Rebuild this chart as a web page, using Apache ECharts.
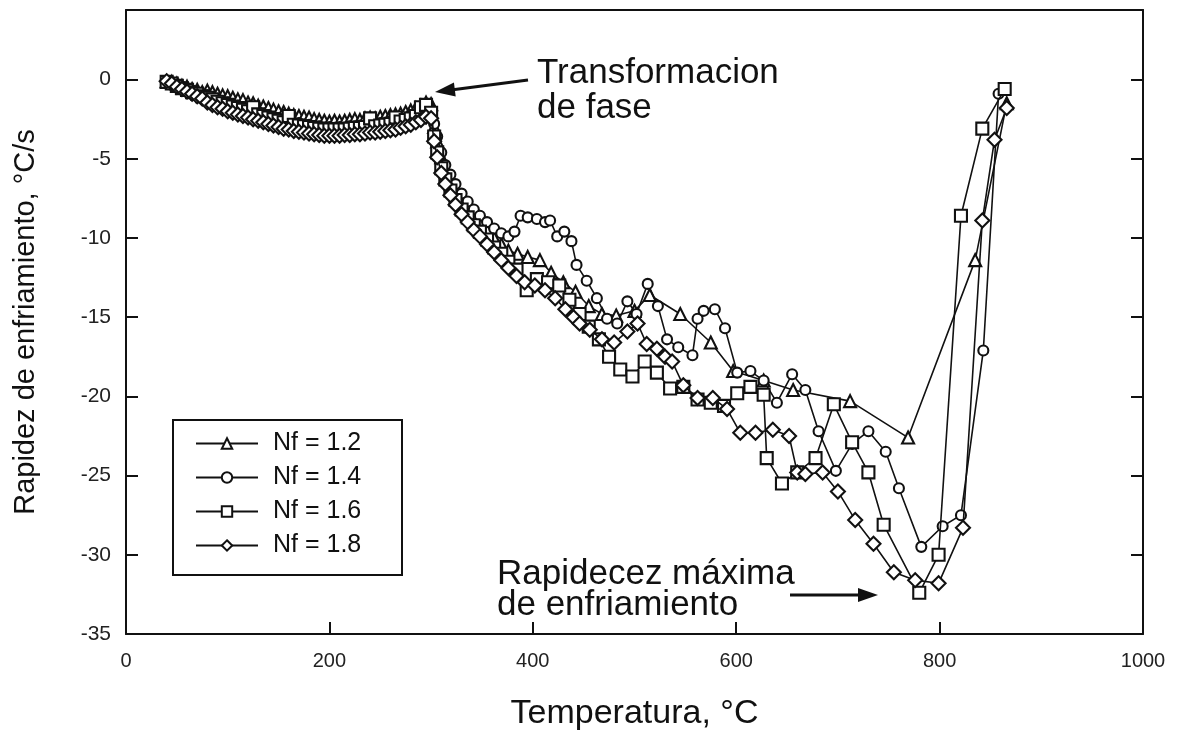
<!DOCTYPE html>
<html>
<head>
<meta charset="utf-8">
<script src="https://cdn.jsdelivr.net/npm/echarts@6/dist/echarts.min.js"></script>
<style>
html,body{margin:0;padding:0;background:#fff;}
#chart{width:1181px;height:736px;}
</style>
</head>
<body>
<div id="chart"></div>
<script>
// ---- data ----
const seriesNames = ['Nf = 1.2', 'Nf = 1.4', 'Nf = 1.6', 'Nf = 1.8'];
const xTicks = [0, 200, 400, 600, 800, 1000];
const yTicks = [0, -5, -10, -15, -20, -25, -30, -35];

// early (shared temperatures), 40..300 °C
const tEarly = [40,45,50,55,60,65,70,75,80,85,90,95,100,105,110,115,120,125,130,135,140,145,150,155,160,165,170,175,180,185,190,195,200,205,210,215,220,225,230,235,240,245,250,255,260,265,270,275,280,285,290,295,300];
const early12 = [-0.10,-0.15,-0.25,-0.40,-0.45,-0.60,-0.65,-0.80,-0.70,-0.80,-0.90,-1.00,-1.05,-1.15,-1.25,-1.30,-1.45,-1.50,-1.65,-1.70,-1.80,-1.90,-2.00,-2.05,-2.15,-2.25,-2.30,-2.35,-2.40,-2.50,-2.55,-2.60,-2.65,-2.60,-2.65,-2.60,-2.55,-2.50,-2.55,-2.45,-2.40,-2.45,-2.35,-2.30,-2.25,-2.20,-2.15,-2.05,-1.95,-1.80,-1.65,-1.45,-1.55];
const early14 = [-0.10,-0.20,-0.30,-0.45,-0.55,-0.70,-0.80,-0.95,-1.00,-1.15,-1.25,-1.40,-1.45,-1.60,-1.65,-1.80,-1.85,-2.00,-2.05,-2.20,-2.25,-2.40,-2.45,-2.60,-2.60,-2.75,-2.75,-2.85,-2.85,-2.95,-2.95,-3.05,-3.00,-3.05,-3.00,-3.05,-2.95,-2.95,-2.90,-2.90,-2.80,-2.85,-2.75,-2.75,-2.65,-2.65,-2.50,-2.45,-2.30,-2.20,-2.00,-1.85,-1.90];
const early16 = [-0.15,-0.25,-0.40,-0.55,-0.65,-0.80,-0.90,-1.05,-1.15,-1.25,-1.40,-1.50,-1.60,-1.70,-1.80,-1.90,-2.00,-1.75,-2.20,-2.30,-2.40,-2.50,-2.60,-2.70,-2.30,-2.85,-2.90,-2.95,-3.00,-3.05,-3.10,-3.15,-3.15,-3.15,-3.15,-3.15,-3.10,-3.05,-3.05,-3.00,-2.45,-2.95,-2.90,-2.85,-2.80,-2.40,-2.65,-2.55,-2.45,-2.30,-1.75,-1.60,-2.10];
const early18 = [-0.10,-0.25,-0.45,-0.60,-0.75,-0.90,-1.05,-1.20,-1.45,-1.60,-1.75,-1.85,-2.00,-2.10,-2.20,-2.30,-2.40,-2.50,-2.60,-2.70,-2.80,-2.90,-3.00,-3.10,-3.15,-3.25,-3.30,-3.35,-3.40,-3.45,-3.50,-3.55,-3.55,-3.55,-3.55,-3.50,-3.50,-3.45,-3.45,-3.40,-3.35,-3.35,-3.30,-3.25,-3.20,-3.15,-3.05,-2.95,-2.85,-2.70,-2.55,-2.35,-2.45];

// later part, per series
const tLate12 = [303,306,310,314,319,324,330,336,342,348,355,362,369,376,385,395,407,418,430,442,455,468,482,500,515,545,575,597,627,656,712,769,835,866];
const late12  = [-3.0,-3.9,-4.9,-5.6,-6.3,-6.9,-7.5,-8.0,-8.5,-9.0,-9.5,-10.0,-10.4,-10.8,-11.0,-11.2,-11.4,-12.2,-12.8,-13.4,-14.3,-14.8,-14.9,-14.6,-13.6,-14.8,-16.6,-18.4,-19.0,-19.6,-20.3,-22.6,-11.4,-1.5];

const tLate14 = [303,306,310,314,319,324,330,336,342,348,355,362,369,376,382,388,395,404,412,417,424,431,438,443,453,463,473,483,493,502,513,523,532,543,557,562,568,579,589,601,614,627,640,655,668,681,698,714,730,747,760,782,803,821,843,858];
const late14  = [-2.8,-3.6,-4.6,-5.4,-6.0,-6.6,-7.2,-7.7,-8.2,-8.6,-9.0,-9.4,-9.7,-9.9,-9.6,-8.6,-8.7,-8.8,-9.0,-8.9,-9.9,-9.6,-10.2,-11.7,-12.7,-13.8,-15.1,-15.4,-14.0,-14.8,-12.9,-14.3,-16.4,-16.9,-17.4,-15.1,-14.6,-14.5,-15.7,-18.5,-18.4,-19.0,-20.4,-18.6,-19.6,-22.2,-24.7,-23.0,-22.2,-23.5,-25.8,-29.5,-28.2,-27.5,-17.1,-0.9];

const tLate16 = [303,306,310,314,319,324,330,336,342,348,355,362,369,376,384,394,404,415,426,436,446,455,465,475,486,498,510,522,535,548,562,575,588,601,614,627,630,645,660,678,696,714,730,745,780,799,821,842,864];
const late16  = [-3.6,-4.6,-5.6,-6.3,-7.0,-7.6,-8.2,-8.7,-9.2,-9.6,-10.1,-10.6,-11.0,-11.5,-12.0,-13.3,-12.6,-12.8,-13.0,-13.9,-14.8,-15.6,-16.4,-17.5,-18.3,-18.75,-17.8,-18.5,-19.5,-19.4,-20.2,-20.4,-20.6,-19.8,-19.4,-19.9,-23.9,-25.5,-24.8,-23.9,-20.5,-22.9,-24.8,-28.1,-32.4,-30.0,-8.6,-3.1,-0.6];

const tLate18 = [303,306,310,314,319,324,330,336,342,348,355,362,369,376,384,392,402,412,422,432,440,446,456,468,480,493,503,512,522,530,537,548,562,577,591,604,619,636,652,660,668,685,700,717,735,755,776,799,823,842,854,866];
const late18  = [-3.9,-4.9,-5.9,-6.6,-7.3,-7.9,-8.5,-9.0,-9.5,-9.9,-10.4,-10.9,-11.4,-11.9,-12.4,-12.8,-13.0,-13.3,-13.8,-14.5,-15.0,-15.4,-15.8,-16.4,-16.6,-15.9,-15.4,-16.7,-17.0,-17.5,-17.8,-19.3,-20.1,-20.1,-20.8,-22.3,-22.3,-22.1,-22.5,-24.8,-24.9,-24.8,-26.0,-27.8,-29.3,-31.1,-31.6,-31.8,-28.3,-8.9,-3.8,-1.8];

// ---- build ----
function pairs(ta, va, tb, vb) {
  const out = [];
  ta.forEach((t, i) => out.push([t, va[i]]));
  tb.forEach((t, i) => out.push([t, vb[i]]));
  return out;
}
const dataSets = [
  pairs(tEarly, early12, tLate12, late12),
  pairs(tEarly, early14, tLate14, late14),
  pairs(tEarly, early16, tLate16, late16),
  pairs(tEarly, early18, tLate18, late18)
];
const symbols = ['triangle', 'circle', 'rect', 'diamond'];
const symSizes = [12, 10, 12, 14];

const FONT = '"Liberation Sans", Arial, Helvetica, sans-serif';
const INK = '#111';

const chart = echarts.init(document.getElementById('chart'), null, {renderer: 'canvas'});

const series = dataSets.map((d, i) => ({
  name: seriesNames[i],
  type: 'line',
  data: d,
  symbol: symbols[i],
  symbolSize: symSizes[i],
  showSymbol: true,
  showAllSymbol: true,
  lineStyle: {color: INK, width: 1.6},
  itemStyle: {color: '#fff', borderColor: INK, borderWidth: 2.1},
  emphasis: {disabled: true},
  z: 2 + i
}));

function arrow(x1, y1, x2, y2) {
  const dx = x2 - x1, dy = y2 - y1, L = Math.hypot(dx, dy);
  const ux = dx / L, uy = dy / L, hl = 20, hw = 7;
  const bx = x2 - ux * hl, by = y2 - uy * hl;
  return [
    {type: 'line', shape: {x1: x1, y1: y1, x2: bx + ux * 2, y2: by + uy * 2}, style: {stroke: INK, lineWidth: 3}},
    {type: 'polygon', shape: {points: [[x2, y2], [bx - uy * hw, by + ux * hw], [bx + uy * hw, by - ux * hw]]}, style: {fill: INK}}
  ];
}

chart.setOption({
  animation: false,
  backgroundColor: '#fff',
  grid: {left: 126, right: 38, top: 10, bottom: 97, containLabel: false},
  xAxis: [{
    type: 'value', min: xTicks[0], max: xTicks[xTicks.length - 1], interval: 200,
    position: 'bottom',
    name: 'Temperatura, °C', nameLocation: 'middle', nameGap: 63,
    nameTextStyle: {fontFamily: FONT, fontSize: 34, color: INK},
    axisLine: {show: true, onZero: false, lineStyle: {color: INK, width: 2}},
    axisTick: {show: true, inside: true, length: 12, lineStyle: {color: INK, width: 2}},
    axisLabel: {fontFamily: FONT, fontSize: 20, color: '#222', margin: 17, formatter: v => String(v)},
    splitLine: {show: false}
  }, {
    type: 'value', min: 0, max: 1000, interval: 200, position: 'top',
    axisLine: {show: true, onZero: false, lineStyle: {color: INK, width: 2}},
    axisTick: {show: false}, axisLabel: {show: false}, splitLine: {show: false}
  }],
  yAxis: [{
    type: 'value', min: yTicks[yTicks.length - 1], max: 4.39, interval: 5,
    position: 'left',
    name: 'Rapidez de enfriamiento, °C/s', nameLocation: 'middle', nameGap: 86, nameRotate: 90,
    nameTextStyle: {fontFamily: FONT, fontSize: 29, color: INK},
    axisLine: {show: true, onZero: false, lineStyle: {color: INK, width: 2}},
    axisTick: {show: true, inside: true, length: 12, lineStyle: {color: INK, width: 2}},
    axisLabel: {fontFamily: FONT, fontSize: 21, color: '#222', margin: 15, showMaxLabel: false},
    splitLine: {show: false}
  }, {
    type: 'value', min: -35, max: 4.39, interval: 5, position: 'right',
    axisLine: {show: true, onZero: false, lineStyle: {color: INK, width: 2}},
    axisTick: {show: true, inside: true, length: 12, lineStyle: {color: INK, width: 2}},
    axisLabel: {show: false}, splitLine: {show: false}
  }],
  legend: {
    show: true, orient: 'vertical', left: 195, top: 431,
    itemWidth: 62, itemHeight: 13, itemGap: 9,
    padding: 0,
    textStyle: {fontFamily: FONT, fontSize: 25, color: INK, padding: [0, 0, 0, 10]},
    data: seriesNames,
    selectedMode: false
  },
  graphic: [
    {type: 'rect', shape: {x: 173, y: 420, width: 229, height: 155}, style: {fill: 'none', stroke: INK, lineWidth: 2}, z: 1},
    {type: 'text', style: {x: 537, y: 56, text: 'Transformacion\nde fase', font: '35px ' + FONT, fill: INK, lineHeight: 35}},
    {type: 'text', style: {x: 497, y: 559, text: 'Rapidecez máxima\nde enfriamiento', font: '35px ' + FONT, fill: INK, lineHeight: 31}},
    ...arrow(528, 80, 435, 92),
    ...arrow(790, 595, 878, 595)
  ],
  series: series
});
</script>
</body>
</html>
